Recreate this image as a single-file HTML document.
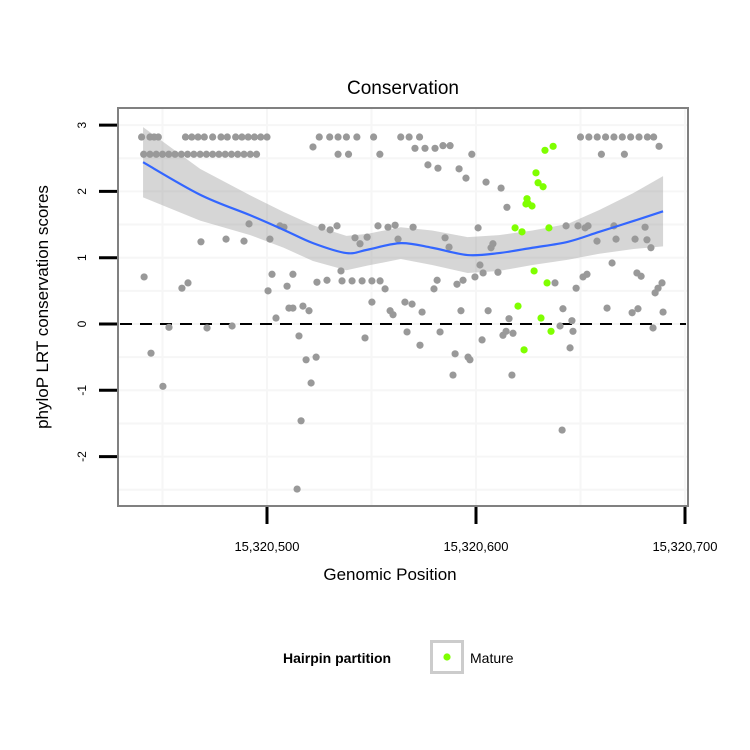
<!DOCTYPE html>
<html><head><meta charset="utf-8"><style>
body{margin:0;background:#fff;font-family:"Liberation Sans",sans-serif}
svg{display:block}
</style></head><body>
<svg id="chart" width="750" height="750" viewBox="0 0 750 750">
<rect x="0" y="0" width="750" height="750" fill="#fff"/>
<text x="403" y="94" text-anchor="middle" font-size="19">Conservation</text>
<g id="grid"></g>
<g id="band"></g>
<g id="pts"></g>
<g id="smooth"></g>
<rect x="118" y="108" width="570" height="398" fill="none" stroke="#808080" stroke-width="2"/>
<g id="axes"></g>
<text transform="translate(48,307) rotate(-90)" text-anchor="middle" font-size="17">phyloP LRT conservation scores</text>
<text x="390" y="580" text-anchor="middle" font-size="17">Genomic Position</text>
<g>
<text x="283" y="663" font-size="14" font-weight="bold">Hairpin partition</text>
<rect x="431.5" y="641.5" width="31" height="31" fill="#fff" stroke="#cccccc" stroke-width="3"/>
<circle cx="447" cy="657" r="3.6" fill="#7fff00"/>
<text x="470" y="663" font-size="14">Mature</text>
</g>
</svg>
<script>
// offsets relative to 15,320,400
const xTicks=[100,200,300];
const xTickLabels=["15,320,500","15,320,600","15,320,700"];
const yTicks=[-2,-1,0,1,2,3];
const xGrid=[50,150,250];
const yGrid=[-2.5,-1.5,-0.5,0.5,1.5,2.5];
const topRowX=[40,44,46,48,61,64,67,70,74,78,81,85,88,91,94,97,100,125,130,134,138,143,151,164,168,173,250,254,258,262,266,270,274,278,282,285];
const topRowY=2.82;
const secondRowX=[41,44,47,50,53,56,59,62,65,68,71,74,77,80,83,86,89,92,95,134,139,154,198,260,271];
const secondRowY=2.56;
const greyX=[41.2,44.5,50.2,53.1,59.3,62.2,68.4,71.3,80.4,83.3,89.0,91.4,100.5,101.4,102.4,104.3,106.2,108.1,109.6,110.5,112.4,112.4,115.3,117.2,120.1,114.4,116.3,118.7,123.5,121.1,122.0,123.9,128.7,126.3,130.2,133.5,135.4,135.9,140.7,145.5,150.2,154.1,142.1,144.5,147.9,150.2,146.9,153.1,157.9,161.3,156.5,158.9,160.3,162.7,169.9,185.2,187.1,201.0,208.1,207.2,201.9,203.4,199.5,210.5,181.4,179.9,190.9,193.8,166.0,169.4,174.2,192.8,205.8,167.0,173.2,182.8,190.0,196.2,197.1,189.0,202.9,212.9,214.4,217.7,215.8,217.2,177.0,181.8,191.9,195.2,204.8,212.0,214.8,170.8,175.6,180.4,184.2,187.6,237.8,241.6,240.2,245.9,246.4,245.0,241.2,247.9,251.2,253.1,243.1,248.8,252.2,253.6,257.9,265.1,262.7,266.0,267.0,274.7,277.5,276.1,277.0,279.0,280.9,281.8,283.7,284.7,285.7,287.1,289.0,289.5,287.6];
const greyY=[0.71,-0.44,-0.94,-0.05,0.54,0.62,1.24,-0.06,1.28,-0.03,1.25,1.51,0.50,1.28,0.75,0.09,1.48,1.46,0.57,0.24,0.24,0.75,-0.18,0.27,0.20,-2.49,-1.46,-0.54,-0.50,-0.89,2.67,0.63,0.66,1.46,1.42,1.48,0.80,0.65,0.65,0.65,0.65,0.65,1.30,1.21,1.31,0.33,-0.21,1.48,1.46,1.49,0.53,0.20,0.14,1.28,1.46,1.30,1.16,1.45,1.21,1.15,0.89,0.77,0.71,0.78,0.66,0.53,0.60,0.66,0.33,0.30,0.18,0.20,0.20,-0.12,-0.32,-0.12,-0.45,-0.50,-0.54,-0.77,-0.24,-0.17,-0.11,-0.14,0.08,-0.77,2.40,2.35,2.34,2.20,2.14,2.05,1.76,2.65,2.65,2.65,2.69,2.69,0.62,0.23,-0.03,0.05,-0.11,-0.36,-1.60,0.54,0.71,0.75,1.48,1.48,1.45,1.48,1.25,0.92,0.24,1.48,1.28,0.17,0.23,1.28,0.77,0.72,1.46,1.27,1.15,-0.06,0.47,0.54,0.62,0.18,2.68];
const matureX=[233.0,236.9,228.7,229.7,232.1,224.4,224.9,226.8,223.9,218.7,222.0,234.9,227.8,234.0,220.1,231.1,235.9,223.0];
const matureY=[2.62,2.68,2.28,2.13,2.07,1.89,1.82,1.78,1.81,1.45,1.39,1.45,0.80,0.62,0.27,0.09,-0.11,-0.39];
const smoothX=[40.7,68,92,108,122,138,148,164,179,196,211,227,244,259,275,289.5];
const smoothY=[2.44,1.95,1.64,1.42,1.22,1.07,1.12,1.22,1.15,1.04,1.07,1.15,1.24,1.39,1.55,1.70];
const smoothSE=[0.53,0.39,0.30,0.27,0.27,0.26,0.24,0.24,0.26,0.27,0.27,0.26,0.27,0.33,0.42,0.53];

const NS='http://www.w3.org/2000/svg';
function X(v){return 267+(v-100)*2.09;}
function Y(v){return 324-v*66.3;}
function mk(tag,attrs,parent){const e=document.createElementNS(NS,tag);for(const k in attrs)e.setAttribute(k,attrs[k]);parent.appendChild(e);return e;}
const grid=document.getElementById('grid'),axes=document.getElementById('axes');
xGrid.concat(xTicks).forEach(v=>{const l=mk('line',{x1:X(v),x2:X(v),y1:108,y2:506,stroke:'#f6f6f6','stroke-width':2},grid);

});
yGrid.concat(yTicks).forEach(v=>{const l=mk('line',{x1:118,x2:688,y1:Y(v),y2:Y(v),stroke:'#f6f6f6','stroke-width':2},grid);

});
let up=smoothX.map((x,i)=>X(x)+','+Y(smoothY[i]+smoothSE[i]));
let lo=smoothX.map((x,i)=>X(x)+','+Y(smoothY[i]-smoothSE[i])).reverse();
const band=mk('polygon',{points:up.concat(lo).join(' '),fill:'#999','fill-opacity':0.4},document.getElementById('band'));


const z=mk('line',{x1:120,x2:686,y1:Y(0),y2:Y(0),stroke:'#000','stroke-width':2,'stroke-dasharray':'12 8'},grid);


const pts=document.getElementById('pts');
function dot(x,y,c,name){const d=mk('circle',{cx:X(x),cy:Y(y),r:3.6,fill:c},pts);

}
topRowX.forEach(x=>dot(x,topRowY,'#999999','grey-point'));
secondRowX.forEach(x=>dot(x,secondRowY,'#999999','grey-point'));
greyX.forEach((x,i)=>dot(x,greyY[i],'#999999','grey-point'));
matureX.forEach((x,i)=>dot(x,matureY[i],'#7fff00','mature-point'));
let d='';
const P=smoothX.map((x,i)=>[X(x),Y(smoothY[i])]);
d='M'+P[0][0]+','+P[0][1];
for(let i=0;i<P.length-1;i++){const p0=P[Math.max(0,i-1)],p1=P[i],p2=P[i+1],p3=P[Math.min(P.length-1,i+2)];
d+=' C'+(p1[0]+(p2[0]-p0[0])/6)+','+(p1[1]+(p2[1]-p0[1])/6)+' '+(p2[0]-(p3[0]-p1[0])/6)+','+(p2[1]-(p3[1]-p1[1])/6)+' '+p2[0]+','+p2[1];}
const sl=mk('path',{d:d,fill:'none',stroke:'#3366ff','stroke-width':2.2},document.getElementById('smooth'));


yTicks.forEach(v=>{const t=mk('line',{x1:99,x2:117,y1:Y(v),y2:Y(v),stroke:'#000','stroke-width':3},axes);


const tx=mk('text',{transform:'translate(86,'+Y(v)+') rotate(-90)','text-anchor':'middle','font-size':12},axes);
tx.textContent=String(v);

});
xTicks.forEach((v,i)=>{const t=mk('line',{x1:X(v),x2:X(v),y1:507,y2:524,stroke:'#000','stroke-width':3},axes);


const tx=mk('text',{x:X(v),y:551,'text-anchor':'middle','font-size':13},axes);
tx.textContent=xTickLabels[i];

});
</script>
</body></html>
